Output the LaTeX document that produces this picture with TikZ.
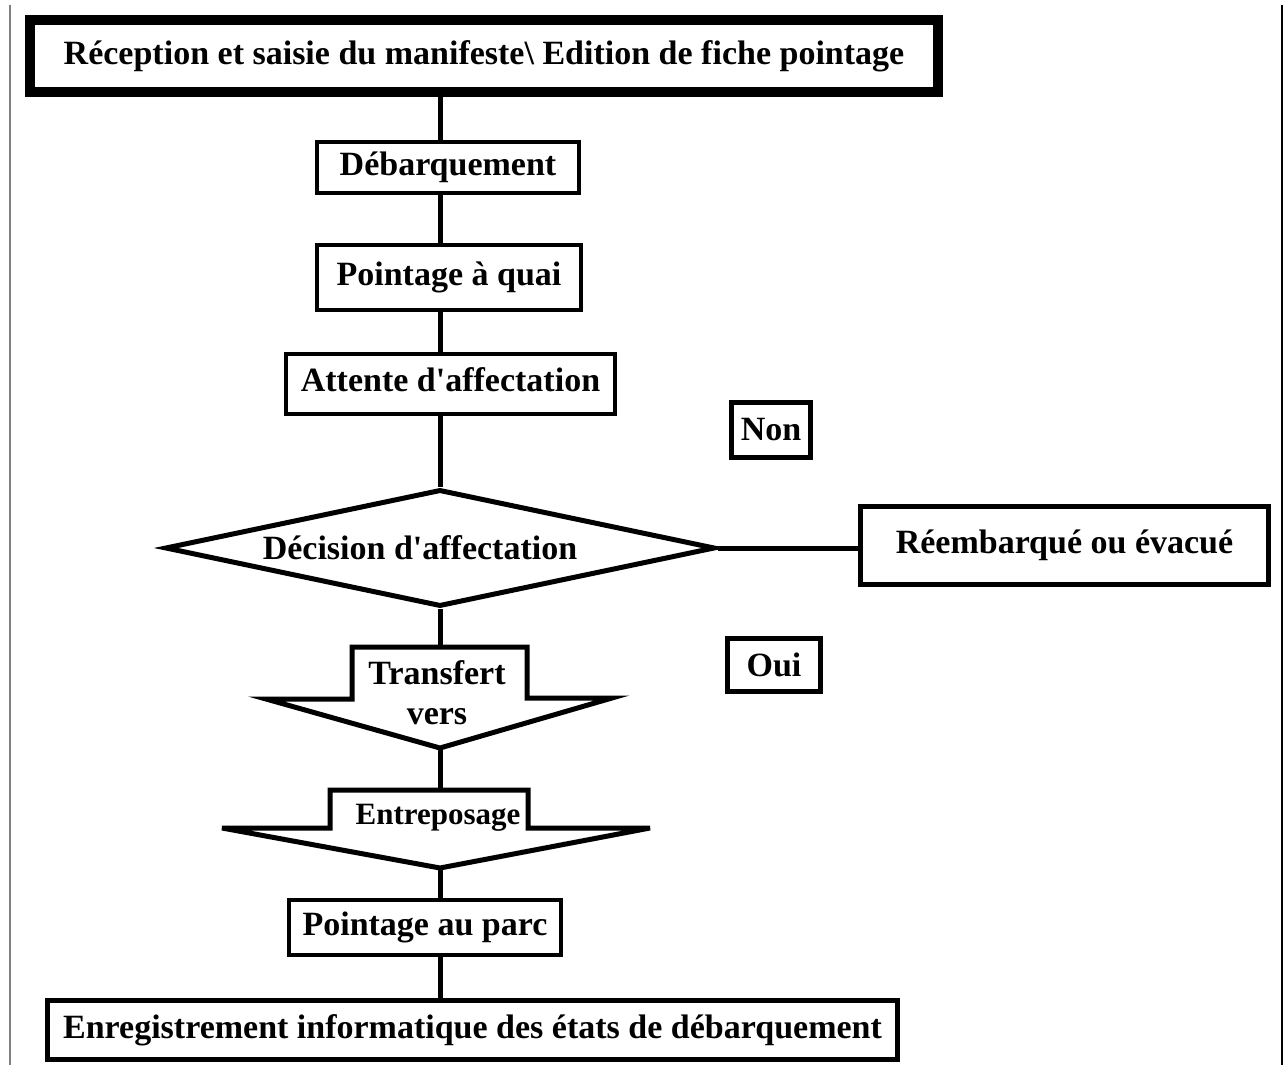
\documentclass[tikz,border=0pt]{standalone}
\usepackage{fontspec}
\setmainfont{Liberation Serif}
\usetikzlibrary{shapes.geometric}

\newcommand{\flowfont}{\bfseries\fontsize{17}{20}\selectfont}

\begin{document}
\begin{tikzpicture}[
    x=0.5pt, y=-0.5pt,
    box/.style={rectangle, draw, line width=2.2pt, inner sep=0pt, font=\flowfont},
    decision/.style={diamond, draw, line width=2.5pt, inner sep=0pt, aspect=4.7, font=\flowfont},
    blockarrow/.style={draw, line width=2.5pt, line join=miter},
    link/.style={line width=2.5pt}
]
    \useasboundingbox (0,0) rectangle (1287,1065);
    \draw[gray, line width=1pt] (10,5) -- (10,1065);
    \draw[line width=1.2pt] (1282,5) -- (1282,1065);

    \coordinate (spine) at (440,0);

    \node[box, line width=5pt, minimum width=454pt, minimum height=36pt] (recep) at (484,56) {Réception et saisie du manifeste\textbackslash{} Edition de fiche pointage};
    \node[box, minimum width=131pt, minimum height=25.5pt] (debarq) at (448,167.5) {Débarquement};
    \node[box, minimum width=132pt, minimum height=32.5pt] (pquai) at (449,277.5) {Pointage à quai};
    \node[box, minimum width=164.5pt, minimum height=30pt] (attente) at (450.5,384) {\raisebox{4pt}{Attente d\textquotesingle affectation}};
    \node[box, line width=2.5pt, minimum width=39.5pt, minimum height=27.5pt] (non) at (771,430) {Non};
    \node[decision, minimum width=275pt, minimum height=58.5pt] (decis) at (440,548) {\hspace*{-20pt}Décision d\textquotesingle affectation};
    \node[box, line width=2.5pt, minimum width=204pt, minimum height=39pt] (reemb) at (1064.5,545.5) {Réembarqué ou évacué};
    \node[box, line width=2.5pt, minimum width=46.5pt, minimum height=26.5pt] (oui) at (774,665) {Oui};

    \coordinate (trtop) at (440,647);
    \coordinate (trtip) at (440,748);
    \draw[blockarrow] (352,647) -- (527,647) -- (527,698) -- (612,698) -- (trtip) -- (266,699) -- (352,699) -- cycle;
    \node[align=center, font=\flowfont] (transf) at (437,693) {Transfert\\vers};

    \coordinate (entop) at (440,790);
    \coordinate (entip) at (440,868);
    \draw[blockarrow] (330,790) -- (528,790) -- (528,828) -- (650,828) -- (entip) -- (222,828) -- (330,828) -- cycle;
    \node[font=\bfseries\fontsize{15.5}{18}\selectfont] (entrepo) at (438,818) {Entreposage};

    \node[box, minimum width=136pt, minimum height=27.5pt] (pparc) at (425,927.5) {Pointage au parc};
    \node[box, line width=2.5pt, minimum width=425pt, minimum height=29.5pt] (enreg) at (472.5,1030) {Enregistrement informatique des états de débarquement};

    \draw[link] (recep.south -| spine) -- (debarq.north -| spine);
    \draw[link] (debarq.south -| spine) -- (pquai.north -| spine);
    \draw[link] (pquai.south -| spine) -- (attente.north -| spine);
    \draw[link] (attente.south -| spine) -- (decis.north);
    \draw[link] (decis.east) -- (decis.east -| reemb.west);
    \draw[link] (decis.south) -- (trtop);
    \draw[link] (trtip) -- (entop);
    \draw[link] (entip) -- (pparc.north -| spine);
    \draw[link] (pparc.south -| spine) -- (enreg.north -| spine);
\end{tikzpicture}
\end{document}
